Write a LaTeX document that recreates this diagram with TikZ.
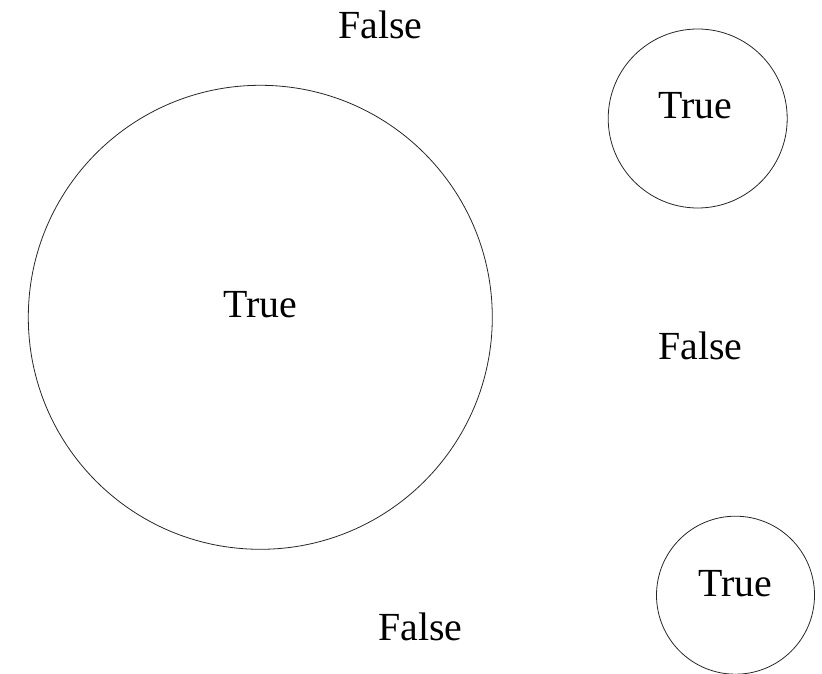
\documentclass[tikz,border=0pt]{standalone}
\usepackage{fontspec}
\setmainfont{Liberation Serif}
\begin{document}
\begin{tikzpicture}[x=1bp,y=-1bp,
  ring/.style={draw=black!85,line width=0.8bp,circle,inner sep=0pt},
  lbl/.style={anchor=base,inner sep=0pt,font=\fontsize{40}{48}\selectfont}]
\useasboundingbox (0,0) rectangle (822,674);
\begin{scope}
\clip (0,0) rectangle (822,674);
\node[ring,minimum size=464bp] (big) at (260.3,317.3) {};
\node[ring,minimum size=179bp] (topc) at (697.7,118.5) {};
\node[ring,minimum size=158bp] (botc) at (735.5,595.2) {};
\end{scope}
\node[lbl] (tbig) at (260.3,317.3) {True};
\node[lbl] (ttop) at (695.5,119) {True};
\node[lbl] (tbot) at (735,596.7) {True};
\node[lbl] (f1) at (380.4,39) {False};
\node[lbl] (f2) at (700.4,359) {False};
\node[lbl] (f3) at (420.4,640) {False};
\end{tikzpicture}
\end{document}
